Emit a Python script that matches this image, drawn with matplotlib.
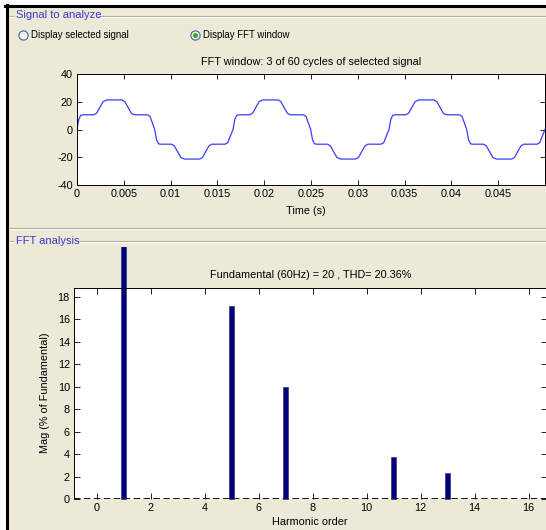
import numpy as np
import matplotlib.pyplot as plt
from matplotlib.lines import Line2D
from matplotlib.patches import Rectangle
from matplotlib.transforms import Bbox, TransformedBbox

plt.rcParams['font.family'] = ['Liberation Sans', 'DejaVu Sans']
plt.rcParams['axes.unicode_minus'] = False

# one cycle of the stepped signal, breakpoints (s, value)
cycle_t = [0.0000, 0.0002, 0.0004, 0.0006, 0.0018, 0.0021, 0.0028, 0.0032,
           0.0048, 0.0051, 0.0058, 0.0061, 0.0075, 0.0078,
           0.0083, 0.0085, 0.0087, 0.0089, 0.0101, 0.0104, 0.0111, 0.0115,
           0.0131, 0.0134, 0.0141, 0.0144, 0.0158, 0.0161]
cycle_v = [0, 7.5, 10.2, 10.6, 10.6, 11.8, 20.2, 21.3,
           21.3, 20.2, 11.8, 10.6, 10.6, 9.5,
           0, -7.5, -10.2, -10.6, -10.6, -11.8, -20.2, -21.3,
           -21.3, -20.2, -11.8, -10.6, -10.6, -9.5]
period = 1 / 60
n_cycles = 3

time_ticks = [0, 0.005, 0.01, 0.015, 0.02, 0.025, 0.03, 0.035, 0.04, 0.045]
time_labels = ['0', '0.005', '0.01', '0.015', '0.02', '0.025', '0.03', '0.035', '0.04', '0.045']
sig_ticks = [-40, -20, 0, 20, 40]

# harmonic spectrum (% of fundamental)
harmonics = [1, 5, 7, 11, 13]
mags = [100, 17.2, 9.95, 3.8, 2.35]
harm_ticks = [0, 2, 4, 6, 8, 10, 12, 14, 16]
mag_ticks = [0, 2, 4, 6, 8, 10, 12, 14, 16, 18]

BEIGE = '#ECE9D8'
GROUP_BLUE = '#3a3ac4'
LINE_GRAY = '#ACA899'
FS = 7.8

W, H = 546, 530


def fx(x):
    return x / W


def fy(y):
    return 1 - y / H


def box(left, top, right, bottom):
    return [fx(left), fy(bottom), (right - left) / W, (bottom - top) / H]


def hline(y, x0, x1, color=LINE_GRAY, lw=0.8):
    fig.add_artist(Line2D([fx(x0), fx(x1)], [fy(y), fy(y)], color=color, lw=lw,
                          transform=fig.transFigure, solid_capstyle='butt'))


def groove(y, x0, x1):
    hline(y, x0, x1, LINE_GRAY)
    hline(y + 1, x0, x1, 'white')


fig = plt.figure(figsize=(5.46, 5.30), dpi=100, facecolor='white')

# window background and black frame
fig.add_artist(Rectangle((fx(7), 0), 1 - fx(7), fy(6), transform=fig.transFigure,
                         facecolor=BEIGE, edgecolor='none', zorder=-10))
fig.add_artist(Line2D([fx(5), 1], [fy(5.5), fy(5.5)], color='black', lw=2.2,
                      transform=fig.transFigure))
fig.add_artist(Line2D([fx(6.5), fx(6.5)], [fy(4.5), 0], color='black', lw=2.2,
                      transform=fig.transFigure))

# group boxes
groove(15.5, 9, 14)
groove(15.5, 98, 546)
fig.text(fx(16), fy(15.5), 'Signal to analyze', color=GROUP_BLUE, fontsize=8,
         ha='left', va='center')
groove(228, 9, 546)
groove(240.5, 9, 14)
groove(240.5, 75, 546)
fig.text(fx(16), fy(240.5), 'FFT analysis', color=GROUP_BLUE, fontsize=8,
         ha='left', va='center')

# radio buttons
for cx, label, on in [(23, 'Display selected signal', False), (195, 'Display FFT window', True)]:
    fig.add_artist(Line2D([fx(cx)], [fy(35)], marker='o', ms=6.6, mfc='#F4F4F0',
                          mec='#52739E', mew=0.9, transform=fig.transFigure))
    if on:
        fig.add_artist(Line2D([fx(cx)], [fy(35)], marker='o', ms=2.6, mfc='#2FA82F',
                              mec='#2FA82F', transform=fig.transFigure))
    fig.text(fx(cx + 8), fy(35), label, fontsize=6.9, ha='left', va='center')

# ---- signal window ----
t = np.concatenate([np.array(cycle_t) + k * period for k in range(n_cycles)] + [[0.05]])
v = np.concatenate([cycle_v] * n_cycles + [[0]])

ax1 = fig.add_axes(box(77, 74, 545, 185))
ax1.plot(t, v, color='#3c3cff', lw=0.9)
ax1.set_xlim(0, 0.05)
ax1.set_ylim(-40, 40)
ax1.set_xticks(time_ticks)
ax1.set_xticklabels(time_labels)
ax1.set_yticks(sig_ticks)
ax1.tick_params(direction='in', length=3.4, width=0.6, top=True, right=True,
                labelsize=FS, pad=3)
for s in ax1.spines.values():
    s.set_linewidth(0.7)
fig.text(fx(311), fy(62), 'FFT window: 3 of 60 cycles of selected signal',
         fontsize=FS, ha='center', va='center')
fig.text(fx(306), fy(211), 'Time (s)', fontsize=FS, ha='center', va='center')

# ---- spectrum ----
ax2 = fig.add_axes(box(74, 287.5, 547, 499.3))
ax2.axhline(0, color='black', lw=1.3, ls=(0, (3.6, 1.9)), zorder=1)
bars = ax2.bar(harmonics, mags, width=0.19, color='#000080', edgecolor='#3a3a70',
               lw=0.5, zorder=2)
clip = TransformedBbox(Bbox.from_extents(0, fy(530), 1, fy(247)), fig.transFigure)
for b in bars:
    b.set_clip_path(None)
    b.set_clip_box(clip)
ax2.set_xlim(-0.84, 16.68)
ax2.set_ylim(0, 18.84)
ax2.set_xticks(harm_ticks)
ax2.set_yticks(mag_ticks)
ax2.spines['bottom'].set_visible(False)
ax2.tick_params(direction='in', length=4.2, width=0.6, top=True, right=True,
                labelsize=FS, pad=3)
for s in ax2.spines.values():
    s.set_linewidth(0.7)
fig.text(fx(310.5), fy(275), 'Fundamental (60Hz) = 20 , THD= 20.36%',
         fontsize=FS, ha='center', va='center')
fig.text(fx(310), fy(522), 'Harmonic order', fontsize=FS, ha='center', va='center')
fig.text(fx(45.5), fy(393), 'Mag (% of Fundamental)', fontsize=FS, rotation=90,
         ha='center', va='center')

fig.savefig('out.png', dpi=100, facecolor=fig.get_facecolor())
